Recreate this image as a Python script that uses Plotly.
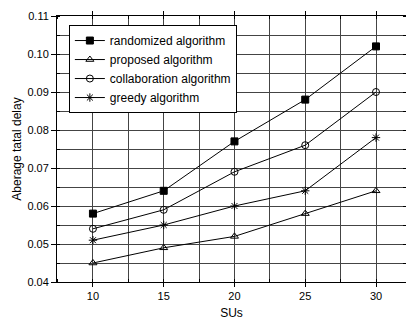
import plotly.graph_objects as go

sus = [10, 15, 20, 25, 30]
randomized = [0.058, 0.064, 0.077, 0.088, 0.102]
proposed = [0.045, 0.049, 0.052, 0.058, 0.064]
collaboration = [0.054, 0.059, 0.069, 0.076, 0.090]
greedy = [0.051, 0.055, 0.060, 0.064, 0.078]
y_ticks = [0.04, 0.05, 0.06, 0.07, 0.08, 0.09, 0.10, 0.11]
y_labels = ["0.04", "0.05", "0.06", "0.07", "0.08", "0.09", "0.10", "0.11"]

series = [
    ("randomized algorithm", randomized, "square"),
    ("proposed algorithm", proposed, "triangle-up-open"),
    ("collaboration algorithm", collaboration, "circle-open"),
    ("greedy algorithm", greedy, "asterisk-open"),
]

fig = go.Figure()
for name, vals, sym in series:
    fig.add_trace(go.Scatter(
        x=sus, y=vals, name=name, mode="lines+markers",
        line=dict(color="black", width=1),
        marker=dict(symbol=sym, size=7, color="black",
                    line=dict(color="black", width=1)),
    ))

grid = "#444444"
fig.update_layout(
    width=406, height=320,
    margin=dict(l=57, r=0, t=16, b=38),
    paper_bgcolor="white", plot_bgcolor="white",
    font=dict(family="Liberation Sans, Arial, sans-serif", size=11, color="black"),
    showlegend=True,
    legend=dict(x=0.034, y=0.966, xanchor="left", yanchor="top",
                bordercolor="black", borderwidth=1, bgcolor="white",
                font=dict(size=12), itemwidth=30, tracegroupgap=0),
)
fig.update_xaxes(
    range=[7.46, 32.12], tickvals=sus,
    showline=True, linecolor="black", linewidth=1, mirror="ticks",
    ticks="outside", ticklen=4, tickcolor="black",
    showgrid=True, gridcolor=grid, gridwidth=1,
    minor=dict(dtick=2.5, tick0=0, showgrid=True, gridcolor=grid, gridwidth=1,
               ticks="inside", ticklen=3),
    title=dict(text="SUs", font=dict(size=12), standoff=8),
    zeroline=False, automargin=False,
)
fig.update_yaxes(
    range=[0.04, 0.11], tickvals=y_ticks, ticktext=y_labels,
    showline=True, linecolor="black", linewidth=1, mirror="ticks",
    ticks="outside", ticklen=5, tickcolor="black",
    showgrid=True, gridcolor=grid, gridwidth=1,
    minor=dict(dtick=0.005, tick0=0, showgrid=True, gridcolor=grid, gridwidth=1,
               ticks="inside", ticklen=3),
    title=dict(text="Aberage tatal delay", font=dict(size=12), standoff=3),
    zeroline=False, automargin=False,
)

fig.write_html("out.html", config={"displayModeBar": False},
               post_script="document.body.style.margin='0';document.body.style.overflow='hidden';")
